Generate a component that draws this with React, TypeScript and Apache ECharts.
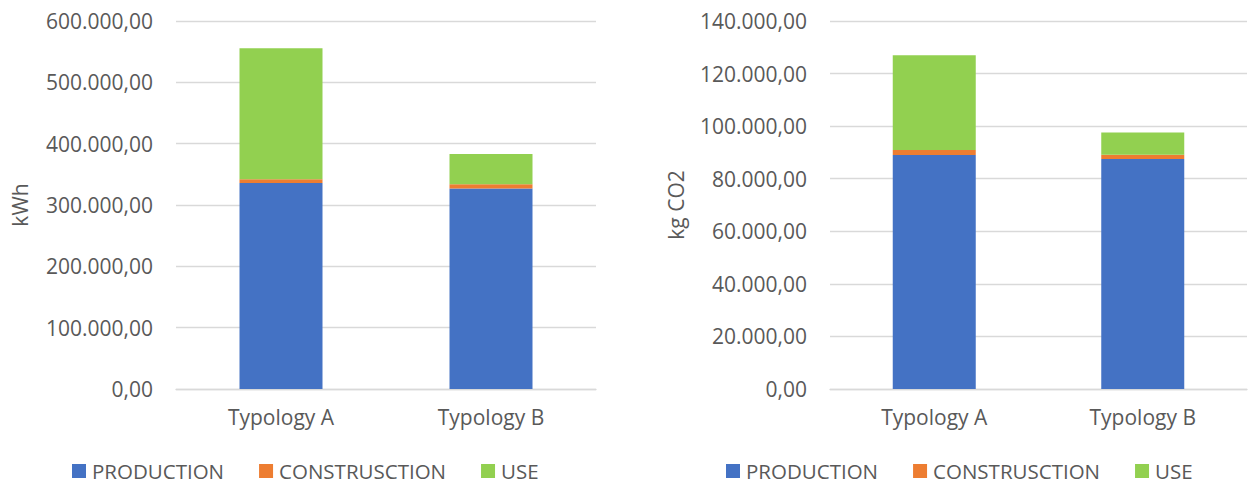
import React, { useEffect, useRef } from "react";
import * as echarts from "echarts";

const categories = ["Typology A", "Typology B"];
const seriesNames = ["PRODUCTION", "CONSTRUSCTION", "USE"];

// Energy (kWh)
const energyProduction = [336000, 327000];
const energyConstruction = [6000, 7000];
const energyUse = [213500, 49000];

// Emissions (kg CO2)
const co2Production = [89000, 87500];
const co2Construction = [1900, 1600];
const co2Use = [36100, 8500];

const colors = ["#4472C4", "#ED7D31", "#92D050"];
const FONT = "'Open Sans', 'Noto Sans', sans-serif";
const TEXT = "#595959";
const GRID_LINE = "#D9D9D9";

function formatEU(v: number): string {
  const fixed = Math.abs(v).toFixed(2);
  const [intPart, dec] = fixed.split(".");
  const withDots = intPart.replace(/\B(?=(\d{3})+(?!\d))/g, ".");
  return (v < 0 ? "-" : "") + withDots + "," + dec;
}

function makeYAxis(gridIndex: number, max: number, interval: number) {
  return {
    type: "value" as const,
    gridIndex,
    min: 0,
    max,
    interval,
    axisLine: { show: false },
    axisTick: { show: false },
    splitLine: { lineStyle: { color: GRID_LINE, width: 1.3 } },
    axisLabel: {
      formatter: (v: number) => formatEU(v),
      color: TEXT,
      fontFamily: FONT,
      fontSize: 21,
      margin: 23,
    },
  };
}

function makeXAxis(gridIndex: number) {
  return {
    type: "category" as const,
    gridIndex,
    data: categories,
    axisLine: { lineStyle: { color: GRID_LINE, width: 1.3 } },
    axisTick: { show: false },
    axisLabel: {
      color: TEXT,
      fontFamily: FONT,
      fontSize: 21,
      margin: 17,
    },
  };
}

function makeSeries(axisIndex: number, stack: string, data: number[][]) {
  return data.map((values, i) => ({
    name: seriesNames[i],
    type: "bar" as const,
    stack,
    xAxisIndex: axisIndex,
    yAxisIndex: axisIndex,
    barWidth: 83,
    data: values,
    itemStyle: { color: colors[i] },
  }));
}

function makeLegend(left: number) {
  return {
    left,
    top: 458,
    padding: 0,
    icon: "rect",
    itemWidth: 14,
    itemHeight: 14,
    itemGap: 35,
    data: seriesNames,
    selectedMode: false,
    textStyle: {
      color: TEXT,
      fontFamily: FONT,
      fontSize: 20.5,
      lineHeight: 26,
      padding: [0, 0, 0, 1],
    },
  };
}

export default function App() {
  const ref = useRef<HTMLDivElement>(null);

  useEffect(() => {
    if (!ref.current) return;
    const chart = echarts.init(ref.current, undefined, { renderer: "svg" });
    chart.setOption({
      animation: false,
      backgroundColor: "#ffffff",
      color: colors,
      grid: [
        { left: 176, right: 653, top: 21, bottom: 98 },
        { left: 830, right: 2, top: 21, bottom: 98 },
      ],
      xAxis: [makeXAxis(0), makeXAxis(1)],
      yAxis: [makeYAxis(0, 600000, 100000), makeYAxis(1, 140000, 20000)],
      legend: [makeLegend(72), makeLegend(726)],
      graphic: [
        {
          type: "text",
          x: 20,
          y: 205,
          rotation: Math.PI / 2,
          style: {
            text: "kWh",
            align: "center",
            verticalAlign: "middle",
            fill: TEXT,
            fontFamily: FONT,
            fontSize: 21,
          },
        },
        {
          type: "text",
          x: 676,
          y: 205,
          rotation: Math.PI / 2,
          style: {
            text: "kg CO2",
            align: "center",
            verticalAlign: "middle",
            fill: TEXT,
            fontFamily: FONT,
            fontSize: 21,
          },
        },
      ],
      series: [
        ...makeSeries(0, "energy", [energyProduction, energyConstruction, energyUse]),
        ...makeSeries(1, "co2", [co2Production, co2Construction, co2Use]),
      ],
    });
    return () => chart.dispose();
  }, []);

  return (
    <div
      ref={ref}
      style={{ position: "fixed", left: 0, top: 0, width: 1249, height: 487, background: "#fff" }}
    />
  );
}
